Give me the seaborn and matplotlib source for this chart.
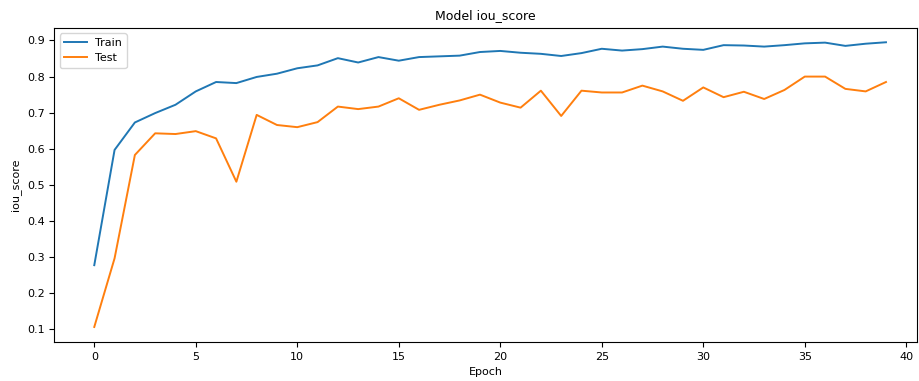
import matplotlib
matplotlib.use("Agg")
import matplotlib.pyplot as plt
import seaborn as sns
import numpy as np

# iou_score per epoch
train_iou = [0.278, 0.597, 0.673, 0.699, 0.722, 0.759, 0.785, 0.782, 0.799, 0.808,
             0.823, 0.831, 0.851, 0.839, 0.854, 0.844, 0.854, 0.856, 0.858, 0.868,
             0.871, 0.866, 0.863, 0.857, 0.865, 0.877, 0.872, 0.876, 0.883, 0.877,
             0.874, 0.887, 0.886, 0.883, 0.887, 0.892, 0.894, 0.885, 0.891, 0.895]
test_iou = [0.107, 0.297, 0.583, 0.643, 0.641, 0.649, 0.629, 0.509, 0.694, 0.666,
            0.660, 0.674, 0.717, 0.710, 0.717, 0.740, 0.708, 0.722, 0.734, 0.750,
            0.728, 0.714, 0.761, 0.691, 0.761, 0.756, 0.756, 0.775, 0.759, 0.733,
            0.770, 0.743, 0.758, 0.738, 0.763, 0.800, 0.800, 0.766, 0.759, 0.785]
epochs = np.arange(len(train_iou))

fig = plt.figure(figsize=(9.2, 3.81), dpi=100)
ax = fig.add_axes([0.059, 0.102, 0.938, 0.825])

sns.lineplot(x=epochs, y=train_iou, ax=ax, color="#1f77b4", linewidth=1.4, label="Train")
sns.lineplot(x=epochs, y=test_iou, ax=ax, color="#ff7f0e", linewidth=1.4, label="Test")

ax.set_title("Model iou_score", fontsize=9)
ax.set_xlabel("Epoch", fontsize=8)
ax.set_ylabel("iou_score", fontsize=8)
ax.set_xticks(np.arange(0, 41, 5))
ax.set_yticks(np.arange(0.1, 0.91, 0.1))
ax.set_xlim(-1.97, 40.54)
ax.set_ylim(0.065, 0.935)
ax.tick_params(labelsize=8)
ax.legend(loc="upper left", fontsize=8)

fig.savefig("out.png", dpi=100)
